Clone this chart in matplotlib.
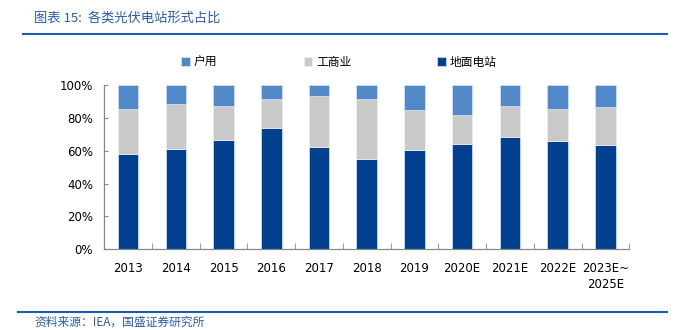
import numpy as np
import matplotlib.pyplot as plt
from matplotlib.lines import Line2D

plt.rcParams['font.family'] = ['DejaVu Sans', 'Noto Sans CJK SC']

years = ['2013', '2014', '2015', '2016', '2017', '2018', '2019',
         '2020E', '2021E', '2022E', '2023E~\n2025E']
# 占比 (%)
ground = [58.2, 61.3, 66.3, 73.8, 62.5, 55.2, 60.6, 64.1, 68.4, 65.7, 63.3]
commercial = [27.4, 27.1, 21.1, 17.9, 31.0, 36.3, 24.2, 17.6, 19.0, 19.9, 23.3]
household = [14.4, 11.6, 12.6, 8.3, 6.5, 8.5, 15.2, 18.3, 12.6, 14.4, 13.4]

c_house = '#5088C8'
c_comm = '#C9C9C9'
c_ground = '#00408F'
cjk = ['Noto Sans CJK SC', 'DejaVu Sans']

fig = plt.figure(figsize=(6.81, 3.30), dpi=100)
ax = fig.add_axes([0.153, 0.245, 0.771, 0.497])

x = np.arange(len(years))
w = 0.43
ax.bar(x, ground, w, color=c_ground, edgecolor='#DCE6F2', linewidth=0.5, label='地面电站')
ax.bar(x, commercial, w, bottom=ground, color=c_comm, edgecolor='#F0F0F0',
       linewidth=0.5, label='工商业')
bot2 = np.array(ground) + np.array(commercial)
ax.bar(x, household, w, bottom=bot2, color=c_house, edgecolor='#DCE6F2',
       linewidth=0.5, label='户用')

ax.set_xlim(-0.5, len(years) - 0.5)
ax.set_ylim(0, 100)
ax.set_yticks(np.arange(0, 101, 20))
ax.set_yticklabels([f'{v}%' for v in range(0, 101, 20)], fontsize=8.5)
ax.set_xticks(x)
ax.set_xticklabels(years, fontsize=8.5, linespacing=1.35)
ax.set_xticks(np.arange(-0.5, len(years), 1), minor=True)
ax.tick_params(axis='x', which='major', length=0, pad=9)
ax.tick_params(axis='x', which='minor', direction='in', length=4, color='#888888')
ax.tick_params(axis='y', direction='in', length=3, color='#888888', pad=8)
for s in ['top', 'right']:
    ax.spines[s].set_visible(False)
for s in ['left', 'bottom']:
    ax.spines[s].set_color('#888888')
    ax.spines[s].set_linewidth(0.9)

# 图例
handles, labels = ax.get_legend_handles_labels()
order = [2, 1, 0]
leg = fig.legend([handles[i] for i in order], [labels[i] for i in order],
                 loc='center', bbox_to_anchor=(0.498, 0.812), ncol=3,
                 frameon=False, prop={'family': cjk, 'size': 8.5},
                 handlelength=0.75, handleheight=0.75, handletextpad=0.3,
                 columnspacing=7.3)

# 标题与分隔线
fig.text(0.05, 0.945, '图表 15:  各类光伏电站形式占比', color='#2A5CA8',
         fontsize=9.5, family=cjk, va='center', style='italic')
fig.add_artist(Line2D([0.034, 0.98], [0.898, 0.898], color='#1F5BB0', lw=1.5))
fig.add_artist(Line2D([0.027, 0.98], [0.055, 0.055], color='#1F5BB0', lw=1.5))
fig.text(0.05, 0.025, '资料来源：IEA，国盛证券研究所', color='#2A5CA8',
         fontsize=8.5, family=cjk, va='center', style='italic')

fig.savefig('out.png', dpi=100)
